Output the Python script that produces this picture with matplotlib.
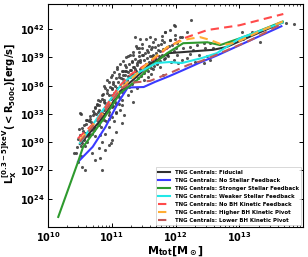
import numpy as np
import matplotlib
matplotlib.use("Agg")
import matplotlib.pyplot as plt

plt.rcParams['font.family'] = ['DejaVu Sans']
plt.rcParams['font.weight'] = 'bold'
plt.rcParams['mathtext.default'] = 'bf'

# ---- data (log10 values) ----
fid_m = [10.50, 10.86, 11.13, 11.40, 11.60, 11.90, 12.12, 12.59, 12.80, 13.20, 13.68]
fid_l = [29.8, 32.6, 35.4, 37.0, 38.3, 39.45, 39.56, 39.8, 40.1, 41.3, 42.7]

nosf_m = [10.47, 10.70, 10.90, 11.10, 11.25, 11.50, 11.68, 11.90, 12.12, 12.40, 12.65, 13.17, 13.66]
nosf_l = [27.9, 29.5, 31.6, 34.2, 35.8, 35.85, 36.4, 37.0, 37.65, 38.5, 39.2, 40.8, 42.3]

strong_m = [10.16, 10.47, 10.55, 10.86, 11.13, 11.40, 11.60, 11.87, 12.12, 12.50, 12.70, 13.00, 13.20, 13.68]
strong_l = [22.06, 27.9, 29.5, 32.35, 35.2, 36.6, 38.0, 39.45, 40.5, 40.6, 40.3, 41.0, 41.5, 42.8]

weak_m = [10.50, 10.86, 11.18, 11.45, 11.70, 11.90, 12.10, 12.40, 12.65, 13.00, 13.68]
weak_l = [29.9, 33.4, 36.4, 37.5, 38.4, 38.5, 38.4, 38.9, 39.45, 41.0, 42.7]

nobh_m = [10.47, 10.77, 11.10, 11.30, 11.60, 11.87, 12.12, 12.50, 13.00, 13.69]
nobh_l = [30.4, 32.35, 35.8, 37.2, 38.5, 40.0, 41.0, 41.9, 42.4, 43.6]

hipiv_m = [10.50, 10.86, 11.13, 11.40, 11.60, 11.87, 12.12, 12.38, 12.54, 12.75, 12.96, 13.30, 13.68]
hipiv_l = [30.2, 33.0, 35.6, 37.3, 38.6, 40.1, 40.85, 41.15, 40.85, 40.3, 40.6, 41.7, 42.8]

lopiv_m = [10.50, 10.86, 11.13, 11.30, 11.60, 11.90, 12.20, 12.40, 12.65, 13.17, 13.68]
lopiv_l = [30.0, 33.0, 35.6, 36.3, 36.5, 37.3, 38.2, 38.6, 39.3, 40.8, 42.6]

# scatter: individual haloes (logM, logL)
pts_m = [
    10.51, 10.40, 10.47, 10.54, 10.58, 10.85, 10.82, 10.90, 10.69, 10.61, 10.95, 11.00, 11.06, 11.16,
    11.19, 11.11, 11.13, 11.00, 10.87, 10.80, 10.72, 10.64, 10.74, 10.85, 10.90, 10.95, 11.03, 10.56,
    10.53, 10.59, 10.66, 10.72, 10.80, 10.90, 11.00, 11.06, 10.95, 10.85, 10.77, 10.87, 10.98, 10.80, 10.74,
    11.26, 11.34, 11.39, 11.08, 11.16, 11.00, 10.95, 10.89, 10.84, 10.79, 10.74, 11.21, 11.26, 11.34,
    11.39, 11.05, 11.10, 11.18, 11.31, 11.36, 11.31, 11.21, 11.02, 10.92, 10.87, 11.00, 11.16, 10.95,
    11.36, 11.65, 11.63, 11.78, 11.84, 11.91, 11.99, 11.91, 12.02, 11.86, 11.73, 11.55, 11.49, 11.44,
    11.39, 11.34, 11.29, 11.23, 11.18, 11.63, 11.71, 11.86, 11.97, 12.04, 11.76, 11.65, 11.55, 11.47,
    11.42, 11.60, 11.97, 12.07, 11.81, 11.57,
    12.25, 12.18, 12.10, 12.44, 12.54, 12.33, 12.23, 12.12, 12.28, 12.46, 12.59, 13.04, 13.20, 13.33,
    13.06, 13.74, 13.85, 12.36, 12.49, 12.18, 12.31, 12.44, 12.54, 12.10, 12.23, 12.85, 11.99, 11.84,
    11.44, 10.50,
]
pts_l = [
    33.0, 28.8, 27.9, 27.4, 27.05, 27.05, 28.3, 29.2, 28.8, 30.05, 29.7, 30.2, 31.1, 32.0,
    32.9, 34.1, 33.4, 32.7, 32.35, 31.8, 31.3, 30.9, 30.6, 30.05, 30.9, 31.6, 32.2, 30.2,
    31.5, 32.35, 32.5, 33.05, 33.4, 33.6, 33.75, 33.05, 32.9, 33.05, 33.9, 34.3, 29.9, 29.35, 28.1,
    39.1, 39.25, 39.95, 37.8, 37.5, 37.1, 36.4, 35.7, 35.0, 34.5, 33.75, 36.1, 35.0, 34.3,
    35.7, 34.3, 35.0, 36.75, 37.1, 37.8, 38.5, 38.2, 36.4, 35.2, 34.5, 35.7, 33.9, 33.75,
    41.2, 40.65, 40.1, 40.85, 41.7, 41.9, 41.4, 40.85, 40.5, 40.1, 39.75, 39.75, 39.25, 38.7,
    38.4, 38.0, 37.65, 37.5, 37.1, 39.1, 38.7, 39.25, 38.7, 38.4, 38.0, 37.8, 38.2, 39.95,
    39.6, 41.2, 42.4, 41.2, 37.1, 36.95,
    42.95, 41.7, 41.2, 40.5, 40.5, 40.3, 40.1, 39.95, 39.75, 39.95, 40.0, 41.7, 41.7, 40.65,
    41.0, 42.6, 42.5, 39.25, 39.1, 38.9, 38.55, 38.4, 38.7, 38.7, 39.4, 40.65, 42.3, 41.7,
    41.0, 33.1,
]

# dense band haloes, grouped by mass bin
band = {
    10.45: [29.5, 30.3, 28.9],
    10.50: [30.8, 29.6, 31.4, 28.5],
    10.55: [31.2, 30.4, 29.9, 31.8],
    10.60: [31.9, 30.6, 31.0, 32.4, 29.6],
    10.65: [32.2, 31.3, 30.8, 32.8],
    10.70: [32.9, 31.6, 30.9, 33.3, 32.1],
    10.75: [33.0, 32.3, 31.5, 34.0, 33.6],
    10.80: [33.9, 32.6, 31.9, 34.4, 33.2, 30.8],
    10.85: [34.6, 33.4, 32.8, 35.1, 31.6],
    10.90: [34.2, 35.5, 33.0, 32.2, 36.0],
    10.95: [35.0, 35.8, 34.1, 33.2, 36.6, 32.5],
    11.00: [35.6, 36.2, 34.6, 33.8, 36.9, 35.0],
    11.05: [36.0, 36.8, 35.2, 34.0, 37.4, 33.2],
    11.10: [36.4, 37.2, 35.7, 34.8, 38.0, 36.9],
    11.15: [36.8, 37.6, 36.0, 35.3, 38.3, 34.5],
    11.20: [37.1, 38.0, 36.3, 35.6, 38.6, 37.6],
    11.25: [37.4, 38.3, 36.6, 35.9, 39.0, 37.0],
    11.30: [37.7, 38.6, 36.9, 36.2, 39.3, 35.4],
    11.35: [38.0, 38.8, 37.2, 36.5, 39.6, 37.6],
    11.40: [38.2, 39.1, 37.5, 36.8, 40.2, 38.6],
    11.45: [38.5, 39.3, 37.8, 37.0, 40.0],
    11.50: [38.7, 39.5, 38.0, 37.3, 40.4, 36.6],
    11.55: [38.9, 39.6, 38.3, 37.6, 40.9],
    11.60: [39.1, 39.9, 38.5, 37.9, 40.2, 37.2],
    11.65: [39.3, 40.1, 38.7, 38.1],
    11.70: [39.5, 40.3, 38.9, 38.3, 41.0],
    11.75: [39.7, 40.4, 39.1, 38.6],
    11.80: [39.9, 40.6, 39.2, 38.8, 41.3],
    11.85: [40.0, 39.4, 38.9],
    11.90: [40.2, 39.6, 39.1, 40.8],
    11.95: [40.3, 39.7, 38.5],
    12.00: [40.0, 39.3, 41.0],
}
band_offsets = [0.0, 0.02, -0.015, 0.012, -0.02, 0.008]

labels = [
    'TNG Centrals: Fiducial',
    'TNG Centrals: No Stellar Feedback',
    'TNG Centrals: Stronger Stellar Feedback',
    'TNG Centrals: Weaker Stellar Feedback',
    'TNG Centrals: No BH Kinetic Feedback',
    'TNG Centrals: Higher BH Kinetic Pivot',
    'TNG Centrals: Lower BH Kinetic Pivot',
]

# ---- figure ----
fig = plt.figure(figsize=(3.08, 2.57), dpi=100)
ax = fig.add_axes([0.156, 0.117, 0.828, 0.867])

bm, bl = [], []
for m, ls in band.items():
    for i, l in enumerate(ls):
        bm.append(m + band_offsets[i % len(band_offsets)])
        bl.append(l)
all_m = np.array(pts_m + bm)
all_l = np.array(pts_l + bl)
ax.scatter(10**all_m, 10**all_l, s=5, c='#363636', alpha=0.85, lw=0, zorder=1)

lw = 1.5
series = [
    (fid_m, fid_l, dict(color='#303030', ls='-')),
    (nosf_m, nosf_l, dict(color='#3a3aff', ls='-')),
    (strong_m, strong_l, dict(color='#2e9a2e', ls='-')),
    (weak_m, weak_l, dict(color='#22e8e8', ls='-')),
    (nobh_m, nobh_l, dict(color='#ff4a4a', ls=(0, (4, 2.5)))),
    (hipiv_m, hipiv_l, dict(color='#ffad33', ls=(0, (4, 2.5)))),
    (lopiv_m, lopiv_l, dict(color='#c05a5a', ls=(0, (4, 2.5)))),
]
for (m, l, kw), lab in zip(series, labels):
    ax.plot(10**np.array(m), 10**np.array(l), lw=lw, label=lab, zorder=3, **kw)

ax.set_xscale('log')
ax.set_yscale('log')
ax.set_xlim(1e10, 1e14)
ax.set_ylim(1e21, 10**44.65)
ax.set_xticks([1e10, 1e11, 1e12, 1e13])
ax.set_xticklabels([r'$\mathbf{10^{10}}$', r'$\mathbf{10^{11}}$', r'$\mathbf{10^{12}}$', r'$\mathbf{10^{13}}$'])
yt = [24, 27, 30, 33, 36, 39, 42]
ax.set_yticks([10.0**v for v in yt])
ax.set_yticklabels([r'$\mathbf{10^{%d}}$' % v for v in yt])
ax.yaxis.set_minor_locator(matplotlib.ticker.NullLocator())
ax.tick_params(which='both', direction='in', top=True, right=True, labelsize=7)
ax.tick_params(which='major', length=3, width=0.7, pad=2.5)
ax.tick_params(which='minor', length=1.5, width=0.5)
for s in ax.spines.values():
    s.set_linewidth(0.8)

ax.set_xlabel(r'$\mathbf{M_{tot}[M_\odot]}$', fontsize=8, fontweight='bold', labelpad=0)
ax.set_ylabel(r'$\mathbf{L_X^{[0.3-5]keV}(<R_{500c})[erg/s]}$', fontsize=7.2, fontweight='bold')
ax.yaxis.set_label_coords(-0.113, 0.51)

leg = ax.legend(loc='lower right', prop={'weight': 'bold', 'size': 3.9},
                handlelength=2.2, labelspacing=0.55, borderpad=0.5, handletextpad=0.8,
                frameon=True, fancybox=False, edgecolor='#bbbbbb', borderaxespad=0.3)
leg.get_frame().set_linewidth(0.5)
leg.set_zorder(5)

fig.savefig('out.png', dpi=100)
